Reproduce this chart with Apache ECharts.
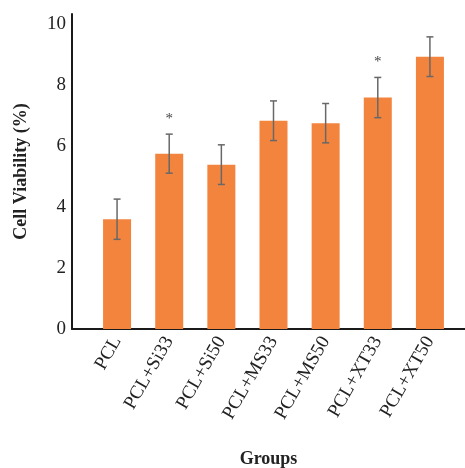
<!DOCTYPE html>
<html>
<head>
<meta charset="utf-8">
<script src="https://cdn.jsdelivr.net/npm/echarts@6/dist/echarts.min.js"></script>
<style>
  html, body { margin: 0; padding: 0; background: #fff; }
  #chart { width: 465px; height: 468px; }
</style>
</head>
<body>
<div id="chart"></div>
<script>
// 分组与数值
const groups = ['PCL', 'PCL+Si33', 'PCL+Si50', 'PCL+MS33', 'PCL+MS50', 'PCL+XT33', 'PCL+XT50'];
const viability = [3.6, 5.75, 5.39, 6.83, 6.75, 7.59, 8.93];
const errors = [0.66, 0.64, 0.65, 0.65, 0.645, 0.66, 0.65];
const marks = ['', '*', '', '', '', '*', ''];
const yTicks = [0, 2, 4, 6, 8, 10];

const font = '"Liberation Serif", "DejaVu Serif", serif';

const errData = viability.map((v, i) => [i, v - errors[i], v + errors[i], marks[i]]);

const chart = echarts.init(document.getElementById('chart'));

const option = {
  backgroundColor: '#ffffff',
  animation: false,
  grid: [
    // 柱子所在区域
    { left: 91, right: 9, top: 14, bottom: 139, outerBoundsMode: 'none', containLabel: false },
    // 坐标轴线所在区域
    { left: 72, right: 0, top: 14, bottom: 139, outerBoundsMode: 'none', containLabel: false },
  ],
  xAxis: [
    {
      type: 'category',
      gridIndex: 0,
      data: groups,
      axisLine: { show: false },
      axisTick: { show: false },
      axisLabel: {
        rotate: 60,
        margin: 9,
        fontFamily: font,
        fontSize: 19,
        color: '#222222',
      },
    },
    {
      type: 'value',
      gridIndex: 1,
      min: 0,
      max: 1,
      axisLine: { show: true, onZero: false, lineStyle: { color: '#1a1a1a', width: 2 } },
      axisTick: { show: false },
      axisLabel: { show: false },
      splitLine: { show: false },
      name: 'Groups',
      nameLocation: 'middle',
      nameGap: 121,
      nameTextStyle: {
        fontFamily: font,
        fontSize: 18,
        fontWeight: 'bold',
        color: '#222222',
      },
    },
  ],
  yAxis: [
    {
      type: 'value',
      gridIndex: 0,
      min: 0,
      max: 10.33,
      show: false,
    },
    {
      type: 'value',
      gridIndex: 1,
      min: 0,
      max: 10.33,
      interval: 2,
      axisLine: { show: true, lineStyle: { color: '#1a1a1a', width: 2 } },
      axisTick: { show: false },
      splitLine: { show: false },
      axisLabel: {
        margin: 6,
        fontFamily: font,
        fontSize: 19,
        color: '#222222',
        formatter: v => (yTicks.includes(v) ? String(v) : ''),
      },
      name: 'Cell Viability (%)',
      nameLocation: 'middle',
      nameGap: 42,
      nameTextStyle: {
        fontFamily: font,
        fontSize: 18,
        fontWeight: 'bold',
        color: '#222222',
      },
    },
  ],
  series: [
    {
      type: 'bar',
      xAxisIndex: 0,
      yAxisIndex: 0,
      barWidth: 28,
      itemStyle: { color: '#F3843E' },
      data: viability,
    },
    {
      type: 'custom',
      xAxisIndex: 0,
      yAxisIndex: 0,
      data: errData,
      z: 5,
      renderItem: (params, api) => {
        const top = api.coord([api.value(0), api.value(2)]);
        const bottom = api.coord([api.value(0), api.value(1)]);
        const cap = 3.5;
        const lineStyle = { stroke: '#686868', lineWidth: 1.5 };
        const children = [
          { type: 'line', shape: { x1: top[0], y1: top[1], x2: bottom[0], y2: bottom[1] }, style: lineStyle },
          { type: 'line', shape: { x1: top[0] - cap, y1: top[1], x2: top[0] + cap, y2: top[1] }, style: lineStyle },
          { type: 'line', shape: { x1: bottom[0] - cap, y1: bottom[1], x2: bottom[0] + cap, y2: bottom[1] }, style: lineStyle },
        ];
        const star = errData[params.dataIndex][3];
        if (star) {
          children.push({
            type: 'text',
            style: {
              text: star,
              x: top[0],
              y: top[1] - 15,
              align: 'center',
              verticalAlign: 'middle',
              fontFamily: font,
              fontSize: 15,
              fill: '#444444',
            },
          });
        }
        return { type: 'group', children };
      },
    },
  ],
};

chart.setOption(option);
</script>
</body>
</html>
